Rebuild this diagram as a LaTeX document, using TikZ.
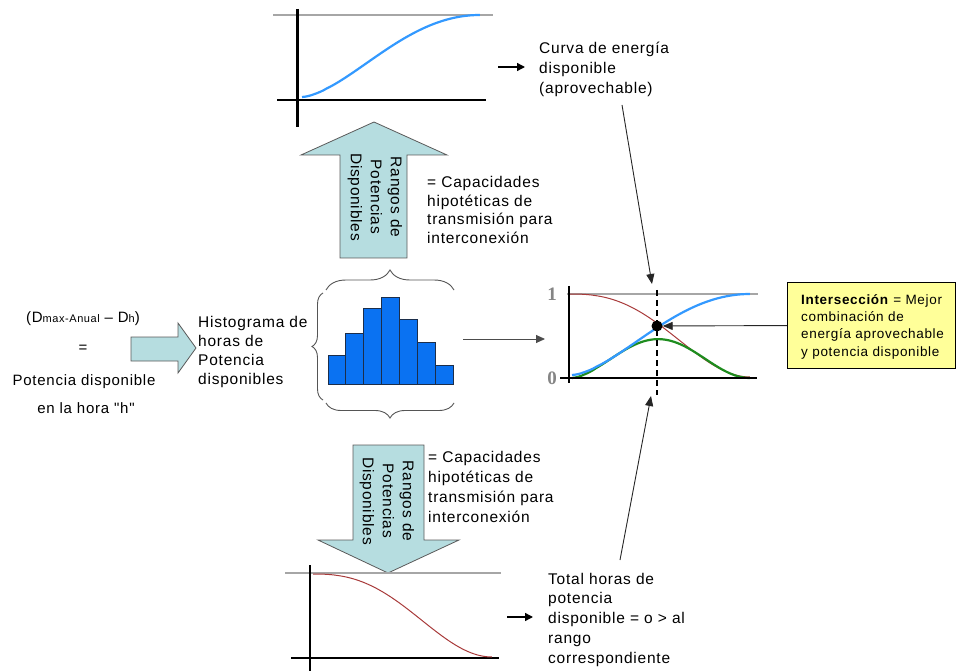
\documentclass[tikz,border=0pt]{standalone}
\usepackage{fontspec}
\setmainfont{Liberation Sans}[LetterSpace=5, Ligatures=TeXOff]
\newfontfamily\digitfont{Liberation Serif}
\usetikzlibrary{arrows.meta,decorations.pathreplacing}

\definecolor{arrowfill}{HTML}{B6DDE0}
\definecolor{arrowline}{HTML}{5A5A5A}
\definecolor{barblue}{HTML}{0A72F2}
\definecolor{barline}{HTML}{1C2E4A}
\definecolor{curveblue}{HTML}{3399FF}
\definecolor{curvered}{HTML}{A83A3A}
\definecolor{curvegreen}{HTML}{1E8C1E}
\definecolor{refgray}{HTML}{A6A6A6}
\definecolor{notefill}{HTML}{FFFF99}
\definecolor{bracegray}{HTML}{555555}
\definecolor{digitgray}{HTML}{858585}

% body text size with a given line pitch
\newcommand{\mainsize}[1]{\fontsize{15.5}{#1}\selectfont}
\newcommand{\subsize}{\fontsize{11}{11}\selectfont}

\begin{document}
\begin{tikzpicture}[x=1pt,y=-1pt,
  % multi-line labels are placed by the baseline of their last line
  lbl/.style={inner sep=0pt, align=left, anchor=base west},
  lblc/.style={inner sep=0pt, anchor=base, font=\fontsize{15}{18}\selectfont},
  fatarrow/.style={fill=arrowfill, draw=arrowline, line width=0.8pt, line join=miter},
  axisline/.style={line width=2.6pt},
  refline/.style={draw=refgray, line width=1.2pt},
  bar/.style={fill=barblue, draw=barline, line width=0.8pt},
  bracket/.style={draw=bracegray, line width=0.9pt, decorate},
  pointer/.style={draw=black!85, line width=0.9pt, -{Triangle[length=10pt,width=8pt]}},
  short/.style={draw=black, line width=1.4pt, -{Triangle[length=8pt,width=8pt]}},
  graylink/.style={draw=black!70, line width=0.9pt, -{Triangle[length=9pt,width=8pt]}},
  rotlbl/.style={inner sep=0pt, rotate=-90, align=center, font=\mainsize{20}},
  notebox/.style={fill=notefill, draw=black, line width=1.1pt, inner sep=0pt,
    minimum width=168pt, minimum height=86pt, anchor=north west},
  numlbl/.style={inner sep=0pt, text=digitgray, font=\digitfont\bfseries\fontsize{19}{19}\selectfont}]
\useasboundingbox (0,0) rectangle (959,671);

% ---------- left: definition and entry arrow ----------
\node[lblc] (defa) at (83,323) {(D{\subsize max-Anual} – D{\subsize h})};
\node[lblc] (defb) at (83,352) {=};
\node[lblc] (defc) at (84,385) {Potencia disponible};
\node[lblc] (defd) at (86,413) {en la hora "h"};
\draw[fatarrow] (131,337) -- (178,337) -- (178,323) -- (196,348) -- (178,373)
  -- (178,361) -- (131,361) -- cycle;

\node[lbl, font=\mainsize{19}] (histtxt) at (198,384)
  {Histograma de\\horas de\\Potencia\\disponibles};

% ---------- histogram with braces ----------
\foreach \h [count=\i from 0] in {355,333,308,297,319,342,365}
  \draw[bar] ({328+17.86*\i},384) rectangle ({328+17.86*(\i+1)},\h);
\draw[bracket, decoration={brace, amplitude=20pt}] (326,290) -- (454,290);
\draw[bracket, decoration={brace, amplitude=11pt}] (323,400) -- (323,293);
\draw[bracket, decoration={brace, amplitude=15pt}] (454,403) -- (326,403);
\coordinate (histR) at (463,339);
\coordinate (chartL) at (545,339);
\draw[graylink] (histR) -- (chartL);

% ---------- upward arrow and top chart ----------
\draw[fatarrow] (340,258) -- (340,155) -- (301,155) -- (374,122) -- (447,155)
  -- (407,155) -- (407,258) -- cycle;
\node[rotlbl] (uplbl) at (375,197) {Rangos de\\Potencias\\Disponibles};
\node[lbl, font=\mainsize{19}] (capup) at (427,244)
  {= Capacidades\\hipotéticas de\\transmisión para\\interconexión};

\draw[refline] (273,15) -- (493,15);
\draw[axisline] (297.5,9) -- (297.5,127);
\draw[axisline] (277,100) -- (486,100);
\draw[curveblue, line width=2.2pt] plot[domain=0.0001:1, samples=60, variable=\t]
  ({302+178*\t},{97-82*(0.5-0.5*cos(180*\t^0.8))});
\coordinate (topA) at (498,67);
\coordinate (topB) at (525,67);
\draw[short] (topA) -- (topB);
\node[lbl, font=\mainsize{20}] (curva) at (539,94)
  {Curva de energía\\disponible\\(aprovechable)};

% ---------- downward arrow and bottom chart ----------
\draw[fatarrow] (353,445) -- (424,445) -- (424,540) -- (459,540) -- (388,573)
  -- (318,540) -- (353,540) -- cycle;
\node[rotlbl] (dnlbl) at (387,501) {Rangos de\\Potencias\\Disponibles};
\node[lbl, font=\mainsize{20}] (capdn) at (428,522)
  {= Capacidades\\hipotéticas de\\transmisión para\\interconexión};

\draw[refline] (285,573) -- (501,573);
\draw[axisline] (310,565) -- (310,675);
\draw[axisline] (291,658) -- (499,658);
\draw[curvered, line width=1pt] plot[domain=0.0001:1, samples=60, variable=\t]
  ({313+179*\t},{574+83*(0.5-0.5*cos(180*\t^1.25))});
\coordinate (botA) at (507,617);
\coordinate (botB) at (533,617);
\draw[short] (botA) -- (botB);
\node[lbl, font=\mainsize{19.7}] (total) at (548,663)
  {Total horas de\\potencia\\disponible = o > al\\rango\\correspondiente};

% ---------- right chart: intersection ----------
\draw[refline] (567,294) -- (758,294);
\node[numlbl] (one) at (552,294) {1};
\node[numlbl] (zero) at (552,378) {0};
\draw[curvered, line width=1pt] plot[domain=0.0001:1, samples=60, variable=\t]
  ({570+180*\t},{294+83*(0.5-0.5*cos(180*\t^1.25))});
\draw[curvegreen, line width=2.2pt] plot[domain=0.0001:1, samples=60, variable=\t]
  ({572+178*\t},{378-101*(0.5-0.5*cos(180*\t^0.8))*(0.5+0.5*cos(180*\t^1.25))});
\draw[curveblue, line width=2.2pt] plot[domain=0.0001:1, samples=60, variable=\t]
  ({572+178*\t},{375-81*(0.5-0.5*cos(180*\t^0.8))});
\draw[axisline] (569,286) -- (569,383);
\draw[axisline] (560,378) -- (757,378);
\draw[line width=2.4pt, dash pattern=on 6pt off 4pt] (657,290) -- (657,395);
\node[circle, fill=black, inner sep=0pt, minimum size=11pt] (dot) at (657,326) {};

\coordinate (curvaTail) at (622,105);
\coordinate (dashTop) at (652,284);
\draw[pointer] (curvaTail) -- (dashTop);
\coordinate (totalTail) at (620,560);
\coordinate (dashBot) at (651,396);
\draw[pointer] (totalTail) -- (dashBot);

% ---------- note box ----------
\node[notebox] (note) at (787,282) {};
\node[lbl, font=\fontsize{13.5}{17.3}\selectfont] (notetxt) at (801,356)
  {\textbf{Intersección} = Mejor\\combinación de\\energía aprovechable\\y potencia disponible};
\draw[pointer] (note.west) -- (dot);

\end{tikzpicture}
\end{document}
